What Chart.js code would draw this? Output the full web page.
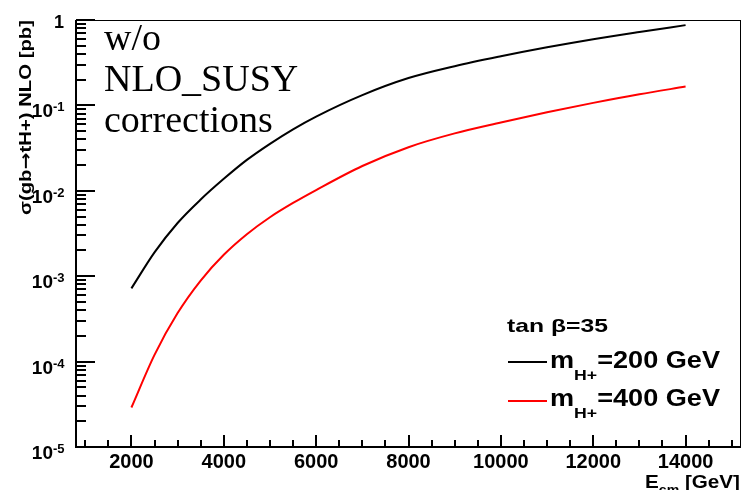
<!DOCTYPE html>
<html>
<head>
<meta charset="utf-8">
<script src="https://cdn.jsdelivr.net/npm/chart.js@4.4.1/dist/chart.umd.min.js"></script>
<style>
  html, body { margin: 0; padding: 0; background: #fff; }
  canvas { display: block; }
</style>
</head>
<body>
<canvas id="grafica" width="742" height="490"></canvas>
<script>
// --- Datos ---
const energias  = [2000, 2500, 3000, 3500, 4000, 4500, 5000, 5500, 6000, 7000, 8000, 9000, 10000, 11000, 12000, 13000, 14000];
const sigmaH200 = [7.2e-4, 1.9e-3, 4.2e-3, 7.9e-3, 1.38e-2, 2.3e-2, 3.55e-2, 5.25e-2, 7.4e-2, 0.132, 0.209, 0.288, 0.376, 0.479, 0.596, 0.724, 0.871];
const sigmaH400 = [2.9e-5, 1.2e-4, 3.7e-4, 8.9e-4, 1.78e-3, 3.1e-3, 4.9e-3, 7.2e-3, 1.02e-2, 1.95e-2, 3.24e-2, 4.7e-2, 6.3e-2, 8.3e-2, 0.107, 0.135, 0.166];

const xTickValores = [2000, 4000, 6000, 8000, 10000, 12000, 14000];
const xTickMenor   = 500;
const yExponentes  = [-5, -4, -3, -2, -1, 0];

const FUENTE = '"Liberation Sans", Arial, sans-serif';
const SERIF  = '"Liberation Serif", "Times New Roman", serif';

// texto con partes (sub/superindices) estirado a un ancho dado
function textoRico(ctx, x, y, partes, anchoObjetivo) {
  let ancho = 0;
  partes.forEach(p => { ctx.font = p.font; ancho += ctx.measureText(p.t).width; });
  const sx = anchoObjetivo ? anchoObjetivo / ancho : 1;
  ctx.save();
  ctx.translate(x, y);
  ctx.scale(sx, 1);
  let cx = 0;
  partes.forEach(p => {
    ctx.font = p.font;
    ctx.fillText(p.t, cx, p.dy || 0);
    cx += ctx.measureText(p.t).width;
  });
  ctx.restore();
}

const marcoRoot = {
  id: 'marcoRoot',
  afterDraw(chart) {
    const c = chart.ctx;
    const a = chart.chartArea;
    const sx = chart.scales.x;
    const sy = chart.scales.y;
    c.save();
    c.fillStyle = '#000';

    // marco fino arriba / derecha
    c.fillRect(a.left, a.top, a.right - a.left, 1);
    c.fillRect(a.right - 1, a.top, 1, a.bottom - a.top);

    // ejes gruesos
    c.fillRect(a.left - 1, a.top, 2, a.bottom - a.top + 1);
    c.fillRect(a.left - 1, a.bottom - 1, a.right - a.left + 1, 2);

    // ticks eje y (hacia dentro)
    yExponentes.forEach(e => {
      for (let m = 1; m <= 9; m++) {
        const v = m * Math.pow(10, e);
        if (v > 1.0000001) break;
        const py = Math.round(sy.getPixelForValue(v));
        c.fillRect(a.left, py - 1, m === 1 ? 19 : 10, 2);
      }
    });

    // ticks eje x
    for (let v = 1000; v <= 15000; v += xTickMenor) {
      const px = Math.round(sx.getPixelForValue(v));
      const largo = xTickValores.includes(v) ? 12 : 7;
      c.fillRect(px - 1, a.bottom - largo, 2, largo);
    }

    // etiquetas y
    yExponentes.forEach(e => {
      const py = sy.getPixelForValue(Math.pow(10, e));
      if (e === 0) {
        c.font = 'bold 18px ' + FUENTE;
        c.textAlign = 'right';
        c.fillText('1', 64, py + 8);
        return;
      }
      c.textAlign = 'right';
      c.font = 'bold 19px ' + FUENTE;
      c.fillText('10', 53, py + 12);
      c.textAlign = 'left';
      c.font = 'bold 13px ' + FUENTE;
      c.fillText('-' + Math.abs(e), 53, py + 6);
    });

    // etiquetas x
    c.textAlign = 'center';
    c.font = 'bold 20px ' + FUENTE;
    xTickValores.forEach(v => {
      c.fillText(String(v), sx.getPixelForValue(v), 468);
    });

    // titulo x
    c.textAlign = 'left';
    textoRico(c, 645, 488, [
      { t: 'E', font: 'bold 19px ' + FUENTE },
      { t: 'cm', font: 'bold 13px ' + FUENTE, dy: 6 },
      { t: ' [GeV]', font: 'bold 19px ' + FUENTE }
    ], 95);

    // titulo y (rotado)
    c.save();
    c.translate(31, 215);
    c.rotate(-Math.PI / 2);
    textoRico(c, 0, 0, [
      { t: 'σ(gb', font: 'bold 17px ' + FUENTE },
      { t: '→', font: 'bold 17px "DejaVu Sans", sans-serif' },
      { t: 'tH+) NLO [pb]', font: 'bold 17px ' + FUENTE }
    ], 195);
    c.restore();

    // texto w/o NLO_SUSY corrections
    c.font = '38px ' + SERIF;
    c.fillText('w/o', 104, 50);
    c.fillText('NLO_SUSY', 104, 91);
    c.fillText('corrections', 104, 132);

    // leyenda
    textoRico(c, 507, 332, [
      { t: 'tan β=35', font: 'bold 19px ' + FUENTE }
    ], 101);

    const entradas = [
      { color: '#000000', yl: 362, base: 368, texto: '=200 GeV' },
      { color: '#ff0000', yl: 401, base: 406, texto: '=400 GeV' }
    ];
    entradas.forEach(en => {
      c.fillStyle = en.color;
      c.fillRect(508, en.yl - 1, 39, 2);
      c.fillStyle = '#000';
      textoRico(c, 550, en.base, [
        { t: 'm', font: 'bold 23px ' + FUENTE },
        { t: 'H+', font: 'bold 15px ' + FUENTE, dy: 12 },
        { t: en.texto, font: 'bold 23px ' + FUENTE }
      ], 170);
    });

    c.restore();
  }
};

const ctx = document.getElementById('grafica').getContext('2d');
new Chart(ctx, {
  type: 'line',
  data: {
    datasets: [
      {
        data: energias.map((e, i) => ({ x: e, y: sigmaH200[i] })),
        borderColor: '#000000',
        borderWidth: 2,
        pointRadius: 0,
        cubicInterpolationMode: 'monotone'
      },
      {
        data: energias.map((e, i) => ({ x: e, y: sigmaH400[i] })),
        borderColor: '#ff0000',
        borderWidth: 2,
        pointRadius: 0,
        cubicInterpolationMode: 'monotone'
      }
    ]
  },
  options: {
    responsive: false,
    animation: false,
    devicePixelRatio: 1,
    layout: { padding: { top: 20, right: 1, left: 0, bottom: 0 } },
    plugins: { legend: { display: false }, tooltip: { enabled: false } },
    scales: {
      x: {
        type: 'linear',
        min: 800,
        max: 15200,
        grid: { display: false, drawTicks: false },
        border: { display: false },
        ticks: { display: false },
        afterFit: (s) => { s.height = 43; }
      },
      y: {
        type: 'logarithmic',
        min: 1e-5,
        max: 1,
        grid: { display: false, drawTicks: false },
        border: { display: false },
        ticks: { display: false },
        afterFit: (s) => { s.width = 76; }
      }
    }
  },
  plugins: [marcoRoot]
});
</script>
</body>
</html>
